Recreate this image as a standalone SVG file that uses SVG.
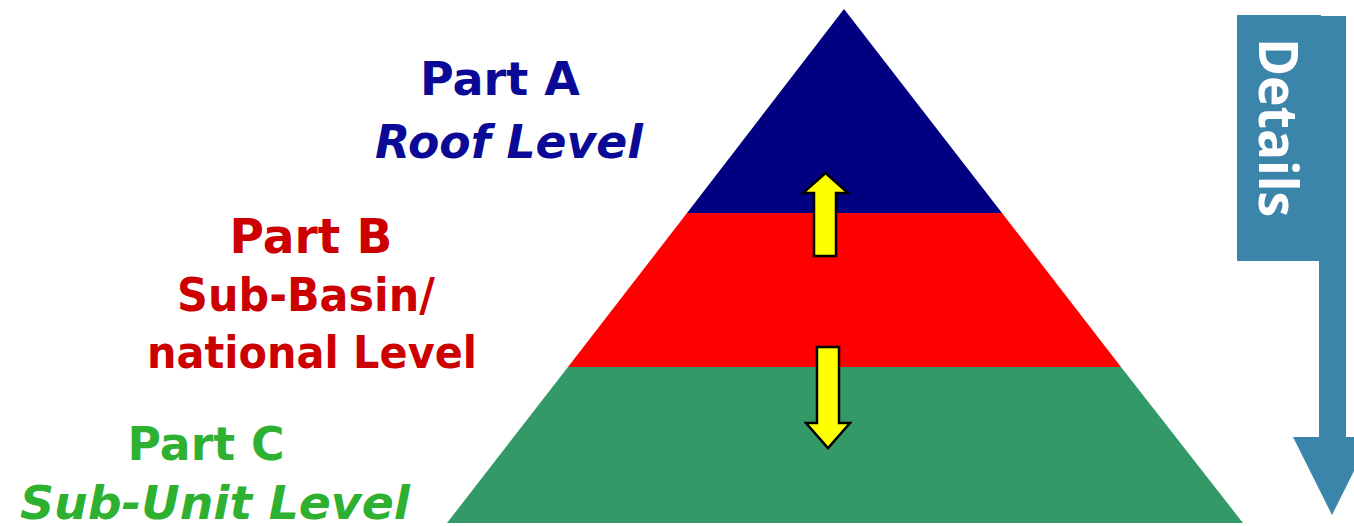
<svg xmlns="http://www.w3.org/2000/svg" width="1354" height="526" viewBox="0 0 1354 526">
<style>
.t{font-family:"DejaVu Sans","Verdana",sans-serif;font-weight:bold;text-anchor:middle}
.i{font-style:italic}
.d{font-family:"Open Sans","DejaVu Sans",sans-serif;font-weight:bold;fill:#fff}
.ya{fill:#ffff00;stroke:#000;stroke-width:2.5;stroke-linejoin:miter}
</style>
<rect width="1354" height="526" fill="#fff"/>
<g id="levelA">
<polygon points="844,9 1002,213 687,213" fill="#000080"/>
</g>
<g id="levelB">
<polygon points="687,213 1002,213 1121,367 568,367" fill="#ff0000"/>
</g>
<g id="levelC">
<polygon points="568,367 1121,367 1243,523 447,523" fill="#339966"/>
</g>
<g id="connectors">
<polygon class="ya" points="825.5,173 848,193 836,193 836,256 814,256 814,193 803,193"/>
<polygon class="ya" points="817,347 839,347 839,423 850,423 828,448 806,423 817,423"/>
</g>
<g id="details">
<polygon points="1319,16 1346,16 1346,437 1371,437 1332,515 1293,437 1319,437" fill="#3b84aa"/>
<rect x="1237" y="15" width="84" height="246" fill="#3b84aa"/>
<text class="d" x="0" y="0" transform="translate(1259,38) rotate(90)" font-size="53" textLength="179" lengthAdjust="spacingAndGlyphs">Details</text>
</g>
<g id="labelA" fill="#0a0a96">
<text class="t" x="500" y="95" font-size="46" textLength="160" lengthAdjust="spacingAndGlyphs">Part A</text>
<text class="t i" x="509" y="158" font-size="47" textLength="268" lengthAdjust="spacingAndGlyphs">Roof Level</text>
</g>
<g id="labelB" fill="#cc0000">
<text class="t" x="311" y="253" font-size="48" textLength="163" lengthAdjust="spacingAndGlyphs">Part B</text>
<text class="t" x="306" y="311" font-size="47" textLength="258" lengthAdjust="spacingAndGlyphs">Sub-Basin/</text>
<text class="t" x="312" y="368" font-size="45" textLength="330" lengthAdjust="spacingAndGlyphs">national Level</text>
</g>
<g id="labelC" fill="#2eb030">
<text class="t" x="206" y="460" font-size="47" textLength="157" lengthAdjust="spacingAndGlyphs">Part C</text>
<text class="t i" x="215" y="519" font-size="47" textLength="390" lengthAdjust="spacingAndGlyphs">Sub-Unit Level</text>
</g>
</svg>
